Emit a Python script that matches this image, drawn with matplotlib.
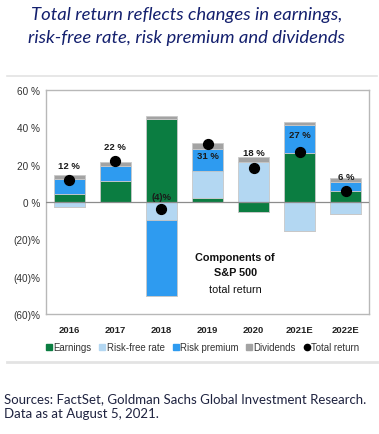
import matplotlib
matplotlib.use("Agg")
import matplotlib.pyplot as plt
from matplotlib.lines import Line2D
import numpy as np

years = ["2016", "2017", "2018", "2019", "2020", "2021E", "2022E"]
earnings = [4.4, 11.2, 44.3, 2.3, -5.3, 26.2, 5.9]
risk_free = [-2.5, 0.0, -9.8, 14.5, 21.6, -15.8, -6.2]
risk_premium = [7.7, 7.9, -40.5, 11.7, 0.0, 15.1, 4.7]
dividends = [2.6, 2.5, 2.0, 3.1, 2.3, 1.6, 2.0]
total_return = [12, 22, -4, 31, 18, 27, 6]
total_labels = ["12 %", "22 %", "(4)%", "31 %", "18 %", "27 %", "6 %"]
yticks = [60, 40, 20, 0, -20, -40, -60]
ytick_labels = ["60 %", "40 %", "20 %", "0 %", "(20)%", "(40)%", "(60)%"]

# label placement (style only)
label_y = [19.5, 29.6, 3.0, 24.8, 26.4, 36.0, 13.7]

C_EARN = "#0b7d41"
C_RF = "#b3d7f2"
C_RP = "#2e9bf0"
C_DIV = "#a3a3a3"

plt.rcParams["font.family"] = ["Liberation Sans", "DejaVu Sans"]

fig = plt.figure(figsize=(3.79, 4.35), dpi=100)
ax = fig.add_axes([46/379, 1-315/435, 323/379, 224/435])

x = np.arange(len(years))
w = 0.67
pos_base = np.zeros(len(years))
neg_base = np.zeros(len(years))
series = [("Earnings", earnings, C_EARN), ("Risk-free rate", risk_free, C_RF),
          ("Risk premium", risk_premium, C_RP), ("Dividends", dividends, C_DIV)]
for name, vals, col in series:
    vals = np.array(vals, dtype=float)
    pos = np.where(vals > 0, vals, 0)
    neg = np.where(vals < 0, vals, 0)
    ax.bar(x, pos, w, bottom=pos_base, color=col, edgecolor="#c8c8c8", linewidth=0.6, zorder=2)
    ax.bar(x, neg, w, bottom=neg_base, color=col, edgecolor="#c8c8c8", linewidth=0.6, zorder=2)
    pos_base += pos
    neg_base += neg

ax.scatter(x, total_return, s=50, color="black", zorder=4)
for xi, ly, lab in zip(x, label_y, total_labels):
    ax.text(xi, ly, lab, ha="center", va="center", fontsize=6.8, fontweight="bold",
            color="#1a1a1a", zorder=5)

ax.axhline(0, color="#8c8c8c", linewidth=0.9, zorder=3)
ax.set_xlim(-0.5, len(years) - 0.5)
ax.set_ylim(-60, 60)
ax.set_yticks(yticks)
ax.set_yticklabels(ytick_labels, fontsize=7.2, color="#333333")
ax.set_xticks(x)
ax.set_xticklabels(years, fontsize=6.8, fontweight="bold", color="#222222")
ax.tick_params(axis="both", length=0, pad=4)
ax.tick_params(axis="x", pad=8)
for s in ax.spines.values():
    s.set_color("#b8b8b8")
    s.set_linewidth(1.0)

cx = 3.6
ax.text(cx, -29.4, "Components of", ha="center", va="center", fontsize=7.8, fontweight="bold", color="#111111")
ax.text(cx, -37.6, "S&P 500", ha="center", va="center", fontsize=7.8, fontweight="bold", color="#111111")
ax.text(cx, -46.4, "total return", ha="center", va="center", fontsize=7.8, color="#111111")

handles = [Line2D([], [], marker="s", linestyle="none", markersize=4.5, color=C_EARN),
           Line2D([], [], marker="s", linestyle="none", markersize=4.5, color=C_RF),
           Line2D([], [], marker="s", linestyle="none", markersize=4.5, color=C_RP),
           Line2D([], [], marker="s", linestyle="none", markersize=4.5, color=C_DIV),
           Line2D([], [], marker="o", linestyle="none", markersize=4.5, color="black")]
fig.legend(handles, ["Earnings", "Risk-free rate", "Risk premium", "Dividends", "Total return"],
           loc="center", bbox_to_anchor=(0.535, 1-348/435), ncol=5, frameon=False,
           fontsize=6.9, handlelength=0.6, handletextpad=0.15, columnspacing=0.85,
           labelcolor="#333333")

# separator lines
fig.add_artist(Line2D([7/379, 377/379], [1-77/435, 1-77/435], color="#e3e3e3", linewidth=1.2))
fig.add_artist(Line2D([7/379, 377/379], [1-363/435, 1-363/435], color="#e3e3e3", linewidth=2.0))

title_col = "#14206e"
fig.text(0.492, 1-15/435, "Total return reflects changes in earnings,", ha="center", va="center",
         fontsize=13.3, style="italic", family="Lato", color=title_col)
fig.text(0.492, 1-38/435, "risk-free rate, risk premium and dividends", ha="center", va="center",
         fontsize=13.3, style="italic", family="Lato", color=title_col)

foot_col = "#1f2340"
fig.text(4/379, 1-399/435, "Sources: FactSet, Goldman Sachs Global Investment Research.", ha="left",
         va="center", fontsize=9.5, family="Lato", color=foot_col)
fig.text(4/379, 1-414/435, "Data as at August 5, 2021.", ha="left", va="center", fontsize=9.5,
         family="Lato", color=foot_col)

fig.savefig("out.png", dpi=100)
